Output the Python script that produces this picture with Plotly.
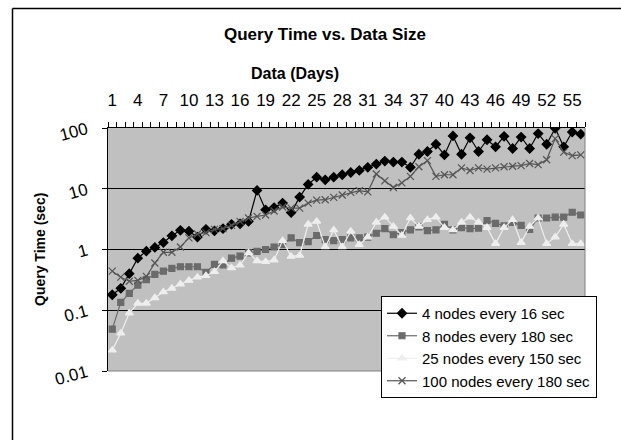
import plotly.graph_objects as go

days = list(range(1, 57))
tick_days = list(range(1, 56, 3))

nodes4_16s = [0.18, 0.23, 0.40, 0.72, 0.94, 1.08, 1.30, 1.68, 2.07, 2.0,
              1.6, 2.15, 2.02, 2.2, 2.6, 2.65, 2.9, 9.4, 4.5, 4.9,
              5.8, 4.05, 7.3, 11.8, 15.5, 14.0, 15.5, 17.0, 18.5, 20.0,
              22.5, 25.5, 28.5, 27.5, 27.5, 22.6, 37, 41, 54, 36,
              74, 37, 69, 41, 64, 49, 73, 46, 71, 46,
              81, 54, 99, 49, 86, 79]
nodes8_180s = [0.049, 0.135, 0.19, 0.26, 0.32, 0.39, 0.44, 0.49, 0.52, 0.52,
               0.52, 0.42, 0.57, 0.56, 0.72, 0.78, 0.88, 0.93, 1.0, 1.1,
               1.2, 1.55, 1.3, 1.35, 1.7, 1.45, 1.4, 1.45, 1.55, 1.55,
               1.6, 1.85, 2.2, 1.75, 1.9, 2.1, 2.35, 2.05, 2.1, 2.6,
               2.1, 2.3, 2.2, 2.25, 3.0, 2.7, 2.45, 2.8, 2.5, 2.15,
               3.3, 3.3, 3.4, 3.4, 4.1, 3.7]
nodes25_150s = [0.022, 0.042, 0.09, 0.13, 0.13, 0.16, 0.20, 0.23, 0.27, 0.31,
                0.35, 0.37, 0.43, 0.65, 0.50, 0.55, 0.88, 0.65, 0.63, 0.67,
                1.4, 0.77, 0.80, 2.6, 2.9, 1.1, 2.1, 1.1, 2.0, 1.2,
                1.6, 2.8, 3.4, 2.4, 1.7, 3.3, 2.4, 3.1, 3.4, 2.3,
                2.1, 2.8, 3.4, 2.8, 2.3, 1.25, 2.3, 3.1, 1.3, 2.4,
                3.3, 1.25, 1.6, 2.6, 1.25, 1.25]
nodes100_180s = [0.44, 0.35, 0.30, 0.31, 0.36, 0.60, 0.90, 0.90, 1.1, 1.55,
                 1.8, 1.9, 2.15, 2.2, 2.5, 2.9, 3.3, 3.5, 3.7, 4.3,
                 5.0, 4.8, 4.8, 5.8, 6.5, 6.6, 7.2, 7.9, 8.7, 9.3,
                 8.9, 17.5, 13.5, 10.5, 12.5, 16, 23, 29, 16, 17,
                 17, 22, 20, 22, 21, 22, 23, 23.5, 24, 26,
                 25, 30, 67, 40, 35, 36]

series = [
    ("4 nodes every 16 sec", nodes4_16s, "#000000", "diamond", 7),
    ("8 nodes every 180 sec", nodes8_180s, "#6b6b6b", "square", 6),
    ("25 nodes every 150 sec", nodes25_150s, "#eeeeee", "triangle-up", 7),
    ("100 nodes every 180 sec", nodes100_180s, "#555555", "x-thin", 7),
]

fig = go.Figure()
for name, vals, col, sym, sz in series:
    fig.add_trace(go.Scatter(
        x=days, y=vals, name=name, mode="lines+markers",
        line=dict(color=col, width=1.2),
        marker=dict(symbol=sym, size=sz, color=col,
                    line=dict(color=col, width=1.2)),
    ))

FONT = "Liberation Sans, Arial, sans-serif"
L, R, T, B = 108, 585, 128, 371
W, H = 621, 440


def px(x):
    return (x - L) / (R - L)


def py(y):
    return (B - y) / (B - T)


fig.update_layout(
    width=W, height=H,
    margin=dict(l=L, r=W - R, t=T, b=H - B, pad=0, autoexpand=False),
    paper_bgcolor="white", plot_bgcolor="#c0c0c0",
    font=dict(family=FONT, size=16, color="black"),
    showlegend=True,
    legend=dict(x=px(381), y=py(296), xanchor="left", yanchor="top",
                bgcolor="white", bordercolor="black", borderwidth=1,
                font=dict(size=15, family=FONT), tracegroupgap=0,
                itemwidth=30),
    xaxis=dict(range=[0.5, 56.5], side="top", tickmode="array",
               tickvals=tick_days, ticktext=[str(d) for d in tick_days],
               ticks="", showgrid=False, zeroline=False, automargin=False,
               showline=True, linecolor="black", linewidth=1,
               ticklabelstandoff=14,
               minor=dict(tick0=0.5, dtick=1, ticks="outside", ticklen=5,
                          tickcolor="black", showgrid=False),
               tickfont=dict(size=17)),
    yaxis=dict(type="log", range=[-2, 2],
               tickvals=[0.01, 0.1, 1, 10, 100],
               ticktext=["0.01", "0.1", "1", "10", "100"],
               ticks="outside", ticklen=5, tickcolor="black",
               showgrid=True, gridcolor="black", gridwidth=1,
               showline=True, linecolor="black", linewidth=1,
               zeroline=False, tickangle=-15, ticklabelstandoff=12,
               automargin=False, tickfont=dict(size=17)),
    annotations=[
        dict(text="<b>Query Time vs. Data Size</b>", x=px(325), y=py(34.5),
             xref="paper", yref="paper", showarrow=False,
             font=dict(size=17, family=FONT), xanchor="center", yanchor="middle"),
        dict(text="<b>Data (Days)</b>", x=px(295), y=py(74),
             xref="paper", yref="paper", showarrow=False,
             font=dict(size=16, family=FONT), xanchor="center", yanchor="middle"),
        dict(text="<b>Query Time (sec)</b>", x=px(40), y=py(250),
             xref="paper", yref="paper", showarrow=False, textangle=-90,
             font=dict(size=14, family=FONT), xanchor="center", yanchor="middle"),
    ],
    shapes=[
        dict(type="line", xref="paper", yref="paper", x0=1, x1=1, y0=0, y1=1,
             line=dict(color="#808080", width=1)),
        dict(type="line", xref="paper", yref="paper", x0=0, x1=1, y0=0, y1=0,
             line=dict(color="#808080", width=1)),
        dict(type="line", xref="paper", yref="paper", x0=px(12.5), x1=px(621),
             y0=py(8.5), y1=py(8.5), line=dict(color="black", width=1.5),
             layer="below"),
        dict(type="line", xref="paper", yref="paper", x0=px(12.5), x1=px(12.5),
             y0=py(8.5), y1=py(440), line=dict(color="black", width=1.5),
             layer="below"),
    ],
)

fig.write_html(
    "out.html",
    config={"displayModeBar": False},
    post_script=("document.documentElement.style.overflow='hidden';"
                 "document.documentElement.style.margin='0';"
                 "document.body.style.margin='0';"
                 "document.body.style.padding='0';"
                 "document.body.style.overflow='hidden';"),
)
